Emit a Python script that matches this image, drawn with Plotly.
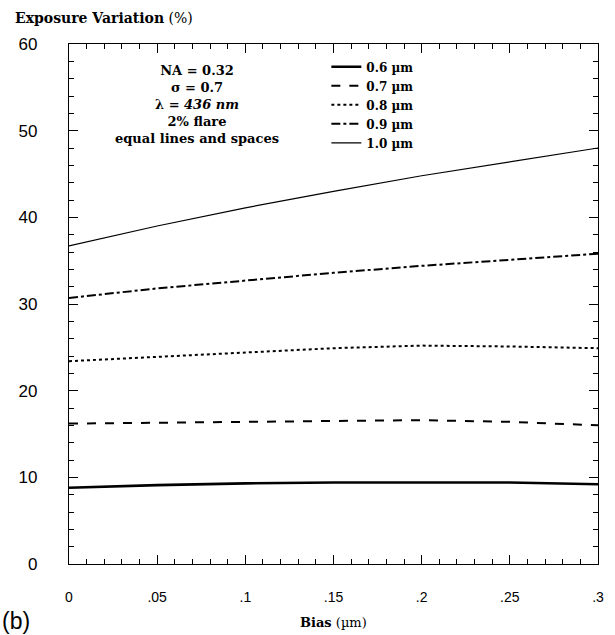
import plotly.graph_objects as go

bias = [0, 0.05, 0.10, 0.15, 0.20, 0.25, 0.30]
series_names = ["0.6 µm", "0.7 µm", "0.8 µm", "0.9 µm", "1.0 µm"]
v06 = [8.8, 9.1, 9.3, 9.4, 9.4, 9.4, 9.2]
v07 = [16.2, 16.3, 16.4, 16.5, 16.6, 16.4, 16.0]
v08 = [23.4, 23.9, 24.4, 24.9, 25.2, 25.1, 24.9]
v09 = [30.7, 31.8, 32.7, 33.6, 34.4, 35.1, 35.8]
v10 = [36.7, 39.0, 41.1, 43.0, 44.8, 46.4, 48.0]
x_tickvals = [0, 0.05, 0.10, 0.15, 0.20, 0.25, 0.30]
x_ticktext = ["0", ".05", ".1", ".15", ".2", ".25", ".3"]
y_tickvals = [0, 10, 20, 30, 40, 50, 60]

values = [v06, v07, v08, v09, v10]
dashes = ["solid", "dash", "dot", "dashdot", "solid"]
widths = [2.6, 2.0, 2.0, 2.0, 1.2]

serif = "DejaVu Serif, Liberation Serif, serif"
sans = "Liberation Sans, Arial, sans-serif"

fig = go.Figure()
for name, vals, d, w in zip(series_names, values, dashes, widths):
    fig.add_trace(go.Scatter(x=bias, y=vals, mode="lines", name="<b>" + name + "</b>",
                             line=dict(color="black", width=w, dash=d)))
# invisible copy on the mirrored top/right axes so that they are drawn with ticks
fig.add_trace(go.Scatter(x=bias, y=v10, xaxis="x2", yaxis="y2", mode="lines",
                         line=dict(width=0, color="rgba(0,0,0,0)"),
                         showlegend=False, hoverinfo="skip"))

axis_common = dict(showgrid=False, zeroline=False, showline=True, linecolor="black",
                   linewidth=1.2, ticks="inside", ticklen=9, tickcolor="black", tickwidth=1.3)
minor_common = dict(ticks="inside", ticklen=5, tickcolor="black", tickwidth=1.2)

fig.update_layout(
    width=615, height=635,
    margin=dict(l=69, r=17, t=44, b=71),
    paper_bgcolor="white", plot_bgcolor="white",
    showlegend=True,
    legend=dict(x=0.4865, y=0.984, xanchor="left", yanchor="top",
                bgcolor="rgba(0,0,0,0)", tracegroupgap=0,
                font=dict(family=serif, size=12, color="black")),
    xaxis=dict(range=[0, 0.3], tickvals=x_tickvals, ticktext=x_ticktext,
               ticklabelstandoff=20, minor=dict(dtick=0.01, **minor_common),
               tickfont=dict(family=sans, size=14, color="black"), **axis_common),
    yaxis=dict(range=[0, 60], tickvals=y_tickvals, ticklabelstandoff=27,
               minor=dict(dtick=2, **minor_common),
               tickfont=dict(family=sans, size=17, color="black"), **axis_common),
    xaxis2=dict(range=[0, 0.3], tickvals=x_tickvals, overlaying="x", side="top",
                showticklabels=False, minor=dict(dtick=0.01, **minor_common),
                **axis_common),
    yaxis2=dict(range=[0, 60], tickvals=y_tickvals, overlaying="y", side="right",
                showticklabels=False, minor=dict(dtick=2, **minor_common),
                **axis_common),
)

fig.add_annotation(
    xref="paper", yref="paper", x=0.242, y=0.967, xanchor="center", yanchor="top",
    text="<b>NA = 0.32<br>σ = 0.7<br>λ = <i>436 nm</i><br>2% flare<br>equal lines and spaces</b>",
    showarrow=False, align="center",
    font=dict(family=serif, size=13, color="black"))

fig.add_annotation(
    xref="paper", yref="paper", x=-0.105, y=1.05, xanchor="left", yanchor="middle",
    text="<b>Exposure Variation</b> (%)", showarrow=False,
    font=dict(family=serif, size=14, color="black"))

fig.add_annotation(
    xref="paper", yref="paper", x=0.5, y=-0.095, xanchor="center", yanchor="top",
    text="<b>Bias</b> (µm)", showarrow=False,
    font=dict(family=serif, size=13, color="black"))

fig.add_annotation(
    xref="paper", yref="paper", x=-0.13, y=-0.08, xanchor="left", yanchor="top",
    text="(b)", showarrow=False,
    font=dict(family=sans, size=23, color="black"))

fig.write_html("out.html")
